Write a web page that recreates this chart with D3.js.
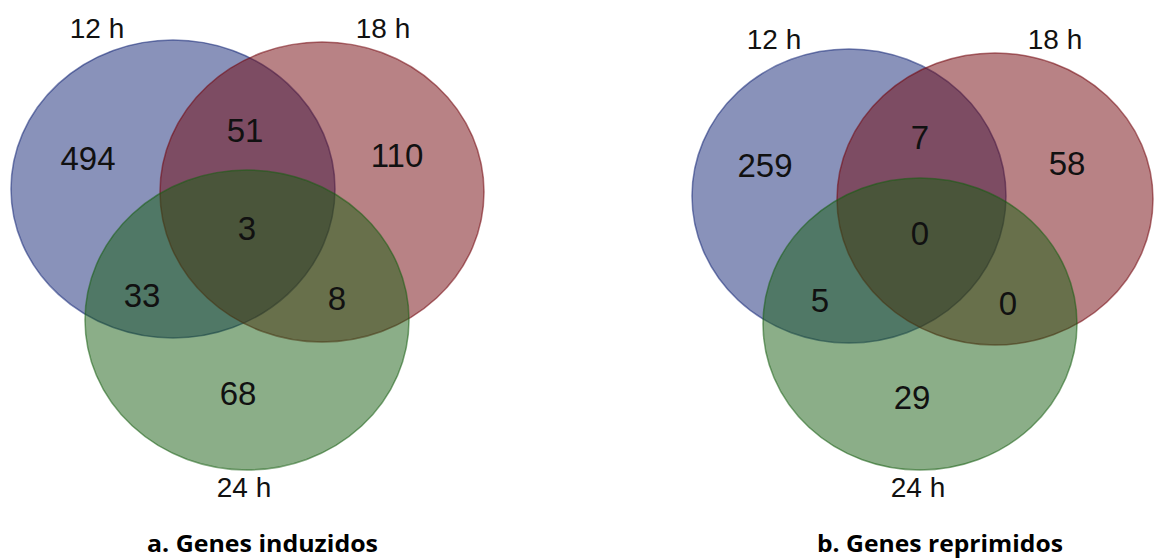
<!DOCTYPE html>
<html>
<head>
<meta charset="utf-8">
<script src="https://cdn.jsdelivr.net/npm/d3@7"></script>
<style>
  html, body { margin: 0; padding: 0; background: #fff; }
  svg { display: block; }
</style>
</head>
<body>
<svg id="chart" width="1158" height="560"></svg>
<script>
// Sets compared at each time point
const setNames = ["12 h", "18 h", "24 h"];
const setColors = ["#142676", "#72060c", "#185e12"];

// Region order: only 12h, only 18h, only 24h, 12h∩18h, 12h∩24h, 18h∩24h, all three
const regionKeys = ["a", "b", "c", "ab", "ac", "bc", "abc"];
const inducedCounts = [494, 110, 68, 51, 33, 8, 3];
const repressedCounts = [259, 58, 29, 7, 5, 0, 0];

const panelTitles = ["a. Genes induzidos", "b. Genes reprimidos"];

// Panel geometry (pixels)
const panels = [
  {
    counts: inducedCounts,
    title: panelTitles[0], titleX: 147, titleLen: 231,
    ellipses: [
      { cx: 173, cy: 189, rx: 162, ry: 149 },
      { cx: 322, cy: 192, rx: 162, ry: 150 },
      { cx: 247, cy: 320, rx: 162, ry: 150 }
    ],
    setLabels: [[97, 38], [383, 38], [244, 497]],
    regionPos: {
      a: [88, 158], b: [397, 155], c: [238, 393],
      ab: [245, 130], ac: [142, 295], bc: [337, 298], abc: [247, 228]
    }
  },
  {
    counts: repressedCounts,
    title: panelTitles[1], titleX: 817, titleLen: 246,
    ellipses: [
      { cx: 849, cy: 196, rx: 157, ry: 147 },
      { cx: 995, cy: 199, rx: 158, ry: 146 },
      { cx: 920, cy: 324, rx: 157, ry: 146 }
    ],
    setLabels: [[774, 49], [1055, 49], [918, 497]],
    regionPos: {
      a: [765, 165], b: [1067, 163], c: [912, 397],
      ab: [920, 137], ac: [820, 300], bc: [1008, 303], abc: [920, 233]
    }
  }
];

const svg = d3.select("#chart");
const color = d3.scaleOrdinal().domain(setNames).range(setColors);
const numFont = 33;
const setFont = 28;
const sansFamily = "'Liberation Sans', Arial, Helvetica, sans-serif";

panels.forEach(p => {
  const g = svg.append("g");

  g.selectAll("ellipse")
    .data(p.ellipses.map((e, i) => ({ ...e, name: setNames[i] })))
    .join("ellipse")
    .attr("cx", d => d.cx)
    .attr("cy", d => d.cy)
    .attr("rx", d => d.rx)
    .attr("ry", d => d.ry)
    .attr("fill", d => color(d.name))
    .attr("fill-opacity", 0.5)
    .attr("stroke", d => color(d.name))
    .attr("stroke-opacity", 0.55)
    .attr("stroke-width", 1.5);

  // Region counts
  g.selectAll("text.count")
    .data(regionKeys.map((k, i) => ({ key: k, value: p.counts[i] })))
    .join("text")
    .attr("class", "count")
    .attr("x", d => p.regionPos[d.key][0])
    .attr("y", d => p.regionPos[d.key][1] + numFont * 0.358)
    .attr("text-anchor", "middle")
    .attr("font-family", sansFamily)
    .attr("font-size", numFont)
    .attr("fill", "#111")
    .text(d => d.value);

  // Set names
  g.selectAll("text.setname")
    .data(setNames.map((n, i) => ({ name: n, pos: p.setLabels[i] })))
    .join("text")
    .attr("class", "setname")
    .attr("x", d => d.pos[0])
    .attr("y", d => d.pos[1])
    .attr("text-anchor", "middle")
    .attr("font-family", sansFamily)
    .attr("font-size", setFont)
    .attr("fill", "#111")
    .text(d => d.name);

  // Panel caption
  g.append("text")
    .attr("x", p.titleX)
    .attr("y", 552)
    .attr("font-family", "'Open Sans', Lato, sans-serif")
    .attr("font-weight", "bold")
    .attr("font-size", 23)
    .attr("textLength", p.titleLen)
    .attr("lengthAdjust", "spacingAndGlyphs")
    .attr("fill", "#000")
    .text(p.title);
});
</script>
</body>
</html>
